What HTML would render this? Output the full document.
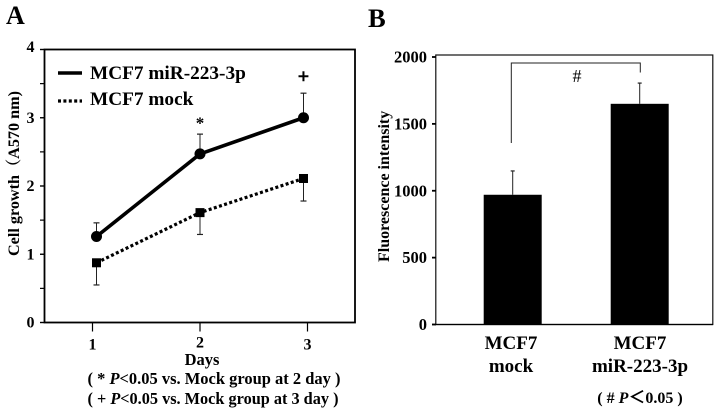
<!DOCTYPE html>
<html>
<head>
<meta charset="utf-8">
<style>
html,body{margin:0;padding:0;background:#fff;width:718px;height:412px;overflow:hidden}
svg{display:block;filter:blur(0.35px)}
text{font-family:"Liberation Serif","Noto Serif CJK SC",serif;font-weight:bold;fill:#000}
</style>
</head>
<body>
<svg id="fig" width="718" height="412" viewBox="0 0 718 412" xmlns="http://www.w3.org/2000/svg">
  <rect width="718" height="412" fill="#fff"/>
  <text x="6" y="24" font-size="26">A</text>
  <text x="368" y="27" font-size="26.5">B</text>

  <g id="panelA"></g>
  <g id="panelB"></g>

  <text transform="translate(19,256) rotate(-90)" font-size="16" textLength="165" lengthAdjust="spacingAndGlyphs">Cell growth（A570 nm)</text>
  <text x="202" y="365" font-size="16.5" text-anchor="middle">Days</text>
  <text x="214" y="384" font-size="16.5" text-anchor="middle" textLength="253" lengthAdjust="spacingAndGlyphs">( * <tspan font-style="italic">P</tspan>&lt;0.05 vs. Mock group at 2 day )</text>
  <text x="213" y="404" font-size="16.5" text-anchor="middle" textLength="251" lengthAdjust="spacingAndGlyphs">( + <tspan font-style="italic">P</tspan>&lt;0.05 vs. Mock group at 3 day )</text>

  <line x1="58" y1="73" x2="82" y2="73" stroke="#000" stroke-width="3.5"/>
  <text x="90" y="79" font-size="19.3">MCF7 miR-223-3p</text>
  <line x1="58" y1="101" x2="82" y2="101" stroke="#000" stroke-width="3.2" stroke-dasharray="3 2.4"/>
  <text x="90" y="105" font-size="19.3">MCF7 mock</text>

  <text transform="translate(389,262) rotate(-90)" font-size="16">Fluorescence intensity</text>
  <text x="640" y="403" font-size="16" text-anchor="middle">( # <tspan font-style="italic">P</tspan><tspan font-size="17" font-family="Noto Sans CJK SC">＜</tspan>0.05 )</text>
</svg>
<script>
// Panel A data
var days = [1, 2, 3];
var mirMeans = [1.26, 2.47, 3.0];
var mirUpper = [1.46, 2.76, 3.36];
var mockMeans = [0.875, 1.61, 2.11];
var mockLower = [0.55, 1.29, 1.78];
var aTicks = [0, 1, 2, 3, 4];
var aMinorTicks = [0.5, 1.5, 2.5, 3.5];
var sigMarks = ['', '*', '+'];

// Panel B data
var groups = [['MCF7', 'mock'], ['MCF7', 'miR-223-3p']];
var barValues = [970, 1650];
var barUpper = [1148, 1805];
var bTicks = [0, 500, 1000, 1500, 2000];

var NS = 'http://www.w3.org/2000/svg';
function mk(parent, tag, attrs, text) {
  var el = document.createElementNS(NS, tag);
  for (var k in attrs) el.setAttribute(k, attrs[k]);
  if (text !== undefined) el.textContent = text;
  parent.appendChild(el);
  return el;
}

// ---- Panel A ----
var A = document.getElementById('panelA');
function ax(d) { return 200 + (d - 2) * 103.5; }
function axTick(d) { return ax(d) + (d - 2) * 4; }
function ay(v) { return 322.5 - v * 68.25; }

var frameA = mk(A, 'rect', {x: 44.5, y: ay(4), width: 310.5, height: ay(0) - ay(4), fill: 'none', stroke: '#000', 'stroke-width': 1.8});



aTicks.forEach(function (t, i) {
  var m = mk(A, 'line', {x1: 40, x2: 44.5, y1: ay(t), y2: ay(t), stroke: '#000', 'stroke-width': 1.4});
  
  
  var nudge = i === aTicks.length - 1 ? 2.5 : 5;
  var l = mk(A, 'text', {x: 34.5, y: ay(t) + nudge, 'font-size': 16, 'text-anchor': 'end'}, String(t));
  
  
});
aMinorTicks.forEach(function (t) {
  var m = mk(A, 'line', {x1: 40, x2: 44.5, y1: ay(t), y2: ay(t), stroke: '#000', 'stroke-width': 1.2});
  
  
});
days.forEach(function (d, i) {
  var x = axTick(d);
  var m = mk(A, 'line', {x1: x, x2: x, y1: ay(0), y2: ay(0) + 9, stroke: '#000', 'stroke-width': 1.2});
  
  
  var l = mk(A, 'text', {x: x, y: ay(0) + (i === 1 ? 25 : 27), 'font-size': 16, 'text-anchor': 'middle'}, String(d));
  
  
});

function pts(vals) {
  return vals.map(function (v, i) { return ax(days[i]) + ',' + ay(v); }).join(' ');
}
function errBar(g, x, y1, y2, cap, name) {
  var e = mk(g, 'line', {x1: x, x2: x, y1: y1, y2: y2, stroke: '#222', 'stroke-width': 1});
  
  
  var c = mk(g, 'line', {x1: x - cap, x2: x + cap, y1: y2, y2: y2, stroke: '#222', 'stroke-width': 1.2});
  
  
}
days.forEach(function (d, i) {
  errBar(A, ax(d), ay(mirMeans[i]), ay(mirUpper[i]), 3, 'mir-error-bar');
  errBar(A, ax(d), ay(mockMeans[i]), ay(mockLower[i]), 3, 'mock-error-bar');
});
var lineMir = mk(A, 'polyline', {points: pts(mirMeans), fill: 'none', stroke: '#000', 'stroke-width': 3.6});


var lineMock = mk(A, 'polyline', {points: pts(mockMeans), fill: 'none', stroke: '#000', 'stroke-width': 3.2, 'stroke-dasharray': '3 2.4'});


days.forEach(function (d, i) {
  var c = mk(A, 'circle', {cx: ax(d), cy: ay(mirMeans[i]), r: 5.5, fill: '#000'});
  
  
  var s = mk(A, 'rect', {x: ax(d) - 4.5, y: ay(mockMeans[i]) - 4.5, width: 9, height: 9, fill: '#000'});
  
  
  if (sigMarks[i]) {
    var isPlus = sigMarks[i] === '+';
    var t = mk(A, 'text', {x: ax(d), y: ay(mirUpper[i]) - (isPlus ? 10 : 5.5), 'font-size': isPlus ? 20 : 17, 'text-anchor': 'middle', stroke: isPlus ? '#000' : 'none', 'stroke-width': 0.6}, sigMarks[i]);
    
    
  }
});

// ---- Panel B ----
var B = document.getElementById('panelB');
function bx(i) { return 512.7 + i * 127; }
function bLabelX(i) { return 511 + i * 129; }
function by(v) { return 324.5 - v * 0.13375; }

var frameB = mk(B, 'rect', {x: 435.8, y: 55, width: 277, height: by(0) - 55, fill: 'none', stroke: '#111', 'stroke-width': 1.2});


var baseB = mk(B, 'line', {x1: 432, x2: 713, y1: by(0), y2: by(0), stroke: '#000', 'stroke-width': 1.2});



bTicks.forEach(function (t) {
  var m = mk(B, 'line', {x1: 432, x2: 436, y1: by(t), y2: by(t), stroke: '#000', 'stroke-width': 1.8});
  
  
  var l = mk(B, 'text', {x: 427, y: by(t) + 5.5, 'font-size': 16.5, 'text-anchor': 'end'}, String(t));
  
  
});
barValues.forEach(function (v, i) {
  errBar(B, bx(i), by(v), by(barUpper[i]), 2, 'bar-error-bar');
  var r = mk(B, 'rect', {x: bx(i) - 29, y: by(v), width: 58, height: by(0) - by(v), fill: '#000'});
  
  
  groups[i].forEach(function (line, j) {
    var l = mk(B, 'text', {x: bLabelX(i), y: 349 + j * 23, 'font-size': 19, 'text-anchor': 'middle'}, line);
    
    
  });
});

// significance bracket runs between the two bar centres
var brTop = by(1985) + 4;
var bracket = mk(B, 'polyline', {
  points: (bx(0) - 1.4) + ',' + (by(barUpper[0]) - 28) + ' ' + (bx(0) - 1.4) + ',' + brTop + ' ' + (bx(1) + 0.6) + ',' + brTop + ' ' + (bx(1) + 0.6) + ',' + (brTop + 9.5),
  fill: 'none', stroke: '#222', 'stroke-width': 1
});


var hash = mk(B, 'text', {x: (bx(0) + bx(1)) / 2 + 0.8, y: 82, 'font-size': 18, style: 'font-weight:normal', 'text-anchor': 'middle'}, '#');


</script>
</body>
</html>
